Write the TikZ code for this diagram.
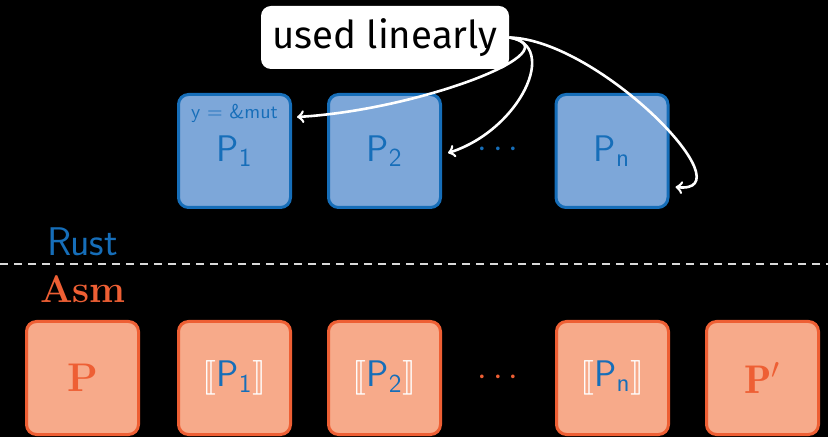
\documentclass[tikz,border=0pt]{standalone}
\usepackage{stmaryrd}
\usepackage{fontspec}
\newfontfamily\firasans{Fira Sans}
\usetikzlibrary{calc}
\definecolor{rblue}{RGB}{22,110,185}
\definecolor{rbluefill}{RGB}{125,167,217}
\definecolor{aorange}{RGB}{238,95,52}
\definecolor{aorangefill}{RGB}{247,170,138}
\newcommand\mysem[1]{{\color{white}$\llbracket$}{\color{rblue}$\mathsf{P}_{\mathsf{#1}}$}{\color{white}$\rrbracket$}}
\begin{document}
\begin{tikzpicture}[x=0.5pt,y=-0.5pt,
  rustbox/.style={draw=rblue, fill=rbluefill, line width=1.5pt, rounded corners=5pt,
    minimum width=56pt, minimum height=56.5pt, inner sep=0pt, text=rblue,
    font=\fontsize{18.5}{20}\selectfont\sffamily},
  asmbox/.style={draw=aorange, fill=aorangefill, line width=1.5pt, rounded corners=5pt,
    minimum width=56pt, minimum height=56.5pt, inner sep=0pt, text=aorange,
    font=\fontsize{18.5}{20}\selectfont\sffamily},
  bigserif/.style={font=\fontsize{20}{22}\selectfont\bfseries},
  link/.style={draw=white, line width=1.3pt, ->}]
\useasboundingbox (0,0) rectangle (828,437);
\fill[black] (0,0) rectangle (828,437);

% label box
\node[fill=white, rounded corners=5pt, minimum width=124pt, minimum height=31.5pt,
  inner sep=0pt, text=black, font=\fontsize{19.2}{21}\selectfont\firasans] (ul) at (385,37.5) {used linearly};

% Rust row
\node[rustbox] (p1) at (234.5,151) {$\mathsf{P}_{\mathsf{1}}$};
\node[text=rblue, font=\fontsize{10}{12}\selectfont\sffamily, inner sep=0pt] (p1note) at (234.5,113) {y = \&mut};
\node[rustbox] (p2) at (384.5,151) {$\mathsf{P}_{\mathsf{2}}$};
\node[text=rblue, font=\fontsize{18}{20}\selectfont, inner sep=0pt] (rdots) at (498,150) {$\cdots$};
\node[rustbox] (pn) at (612,151) {$\mathsf{P}_{\mathsf{n}}$};

% separator
\node[text=rblue, font=\fontsize{20}{22}\selectfont\sffamily, inner sep=0pt] (rust) at (82.5,242) {Rust};
\coordinate (dl) at (0,264);
\coordinate (dr) at (828,264);
\draw[white!85!black, line width=0.6pt, dash pattern=on 4pt off 3pt] (dl) -- (dr);
\node[text=aorange, font=\fontsize{19.2}{21}\selectfont\bfseries, inner sep=0pt] (asm) at (83,289) {Asm};

% Asm row
\node[asmbox, bigserif] (a0) at (82.5,378) {P};
\node[asmbox] (a1) at (234.5,378) {\mysem{1}};
\node[asmbox] (a2) at (384.5,378) {\mysem{2}};
\node[text=aorange, font=\fontsize{18}{20}\selectfont, inner sep=0pt] (adots) at (498,378) {$\cdots$};
\node[asmbox] (an) at (612.5,378) {\mysem{n}};
\node[asmbox, bigserif] (ap) at (762.5,378) {$\mathbf{P}'$};

% arrows
\draw[link] (ul.east) .. controls (575,50) and (420,110) .. ($(p1.north east)+(5,24)$);
\draw[link] (ul.east) .. controls (560,45) and (520,130) .. ($(p2.east)+(6,2)$);
\draw[link] (ul.east) .. controls (600,40) and (750,195) .. ($(pn.east)+(6,36)$);
\end{tikzpicture}
\end{document}
